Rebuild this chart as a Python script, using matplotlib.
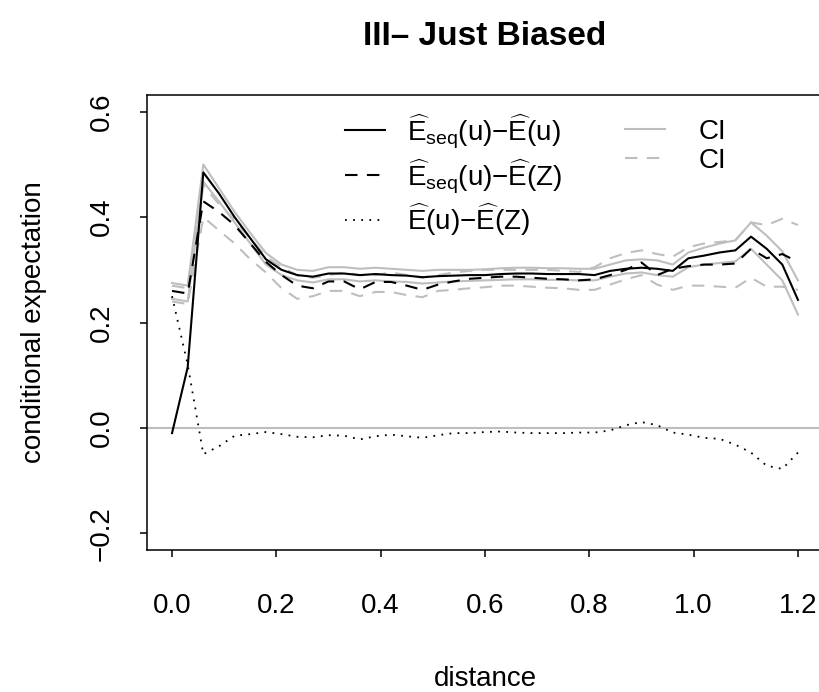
import matplotlib
matplotlib.use("Agg")
import matplotlib.pyplot as plt

plt.rcParams["font.family"] = ["Liberation Sans", "DejaVu Sans"]
plt.rcParams["mathtext.fontset"] = "custom"
plt.rcParams["mathtext.rm"] = "Liberation Sans"
plt.rcParams["mathtext.it"] = "Liberation Sans:italic"
plt.rcParams["mathtext.bf"] = "Liberation Sans:bold"

# distance grid (step 0.03)
distance = [0.00, 0.03, 0.06, 0.09, 0.12, 0.15, 0.18, 0.21, 0.24, 0.27,
            0.30, 0.33, 0.36, 0.39, 0.42, 0.45, 0.48, 0.51, 0.54, 0.57,
            0.60, 0.63, 0.66, 0.69, 0.72, 0.75, 0.78, 0.81, 0.84, 0.87,
            0.90, 0.93, 0.96, 0.99, 1.02, 1.05, 1.08, 1.11, 1.14, 1.17, 1.20]

# E_seq(u) - E(u)
seq_minus_u = [-0.010, 0.115, 0.485, 0.445, 0.400, 0.360, 0.320, 0.300, 0.290, 0.287,
               0.293, 0.293, 0.290, 0.292, 0.290, 0.289, 0.286, 0.288, 0.289, 0.290,
               0.290, 0.292, 0.293, 0.293, 0.292, 0.292, 0.292, 0.290, 0.298, 0.302,
               0.304, 0.302, 0.298, 0.322, 0.327, 0.333, 0.337, 0.363, 0.340, 0.310, 0.243]
ci_u_hi = [0.275, 0.270, 0.500, 0.455, 0.410, 0.370, 0.332, 0.310, 0.300, 0.298,
           0.305, 0.305, 0.302, 0.304, 0.302, 0.300, 0.298, 0.300, 0.300, 0.300,
           0.301, 0.303, 0.304, 0.304, 0.303, 0.303, 0.302, 0.302, 0.310, 0.318,
           0.320, 0.318, 0.310, 0.333, 0.342, 0.350, 0.356, 0.390, 0.365, 0.335, 0.280]
ci_u_lo = [0.245, 0.240, 0.467, 0.430, 0.390, 0.350, 0.310, 0.290, 0.280, 0.276,
           0.282, 0.282, 0.278, 0.280, 0.278, 0.277, 0.274, 0.276, 0.278, 0.279,
           0.280, 0.281, 0.282, 0.282, 0.281, 0.281, 0.280, 0.280, 0.287, 0.293,
           0.295, 0.290, 0.287, 0.305, 0.310, 0.313, 0.316, 0.340, 0.310, 0.280, 0.215]

# E_seq(u) - E(Z)
seq_minus_z = [0.260, 0.255, 0.430, 0.410, 0.385, 0.350, 0.315, 0.290, 0.270, 0.265,
               0.278, 0.278, 0.263, 0.277, 0.277, 0.270, 0.262, 0.272, 0.278, 0.283,
               0.285, 0.287, 0.287, 0.285, 0.283, 0.282, 0.280, 0.282, 0.290, 0.300,
               0.314, 0.290, 0.302, 0.307, 0.310, 0.310, 0.312, 0.340, 0.322, 0.330, 0.315]
ci_z_hi = [0.270, 0.265, 0.460, 0.425, 0.395, 0.360, 0.325, 0.305, 0.290, 0.285,
           0.290, 0.295, 0.290, 0.290, 0.295, 0.290, 0.285, 0.290, 0.295, 0.298,
           0.300, 0.300, 0.300, 0.300, 0.300, 0.298, 0.296, 0.305, 0.322, 0.332,
           0.337, 0.330, 0.325, 0.343, 0.350, 0.353, 0.356, 0.390, 0.385, 0.397, 0.385]
ci_z_lo = [0.240, 0.235, 0.400, 0.375, 0.350, 0.320, 0.295, 0.265, 0.245, 0.250,
           0.260, 0.260, 0.250, 0.258, 0.258, 0.252, 0.248, 0.260, 0.262, 0.265,
           0.267, 0.270, 0.270, 0.268, 0.266, 0.265, 0.262, 0.262, 0.272, 0.282,
           0.290, 0.272, 0.262, 0.270, 0.270, 0.268, 0.266, 0.285, 0.268, 0.268, 0.262]

# E(u) - E(Z)
u_minus_z = [0.250, 0.120, -0.050, -0.035, -0.015, -0.012, -0.008, -0.012, -0.017, -0.018,
             -0.014, -0.015, -0.022, -0.016, -0.013, -0.016, -0.019, -0.014, -0.010, -0.010,
             -0.008, -0.007, -0.009, -0.010, -0.010, -0.010, -0.009, -0.009, -0.005, 0.005,
             0.011, 0.005, -0.009, -0.013, -0.019, -0.021, -0.032, -0.047, -0.072, -0.078, -0.047]

xticks = [0.0, 0.2, 0.4, 0.6, 0.8, 1.0, 1.2]
yticks = [-0.2, 0.0, 0.2, 0.4, 0.6]

GRAY = "#BEBEBE"
DASH = (0, (6, 4.5))
DOT = (0, (1, 3.5))

fig = plt.figure(figsize=(8.2, 6.92), dpi=100)
ax = fig.add_axes([147 / 820, 1 - 550 / 692, 676 / 820, 455 / 692])
ax.set_xlim(-0.048, 1.248)
ax.set_ylim(-0.232, 0.632)

ax.axhline(0, color=GRAY, lw=1.5)
g1, = ax.plot(distance, ci_u_hi, color=GRAY, lw=1.5)
ax.plot(distance, ci_u_lo, color=GRAY, lw=1.5)
g2, = ax.plot(distance, ci_z_hi, color=GRAY, lw=1.5, ls=DASH)
ax.plot(distance, ci_z_lo, color=GRAY, lw=1.5, ls=DASH)
l1, = ax.plot(distance, seq_minus_u, color="black", lw=1.5)
l2, = ax.plot(distance, seq_minus_z, color="black", lw=1.5, ls=DASH)
l3, = ax.plot(distance, u_minus_z, color="black", lw=1.3, ls=DOT)

ax.set_xticks(xticks)
ax.set_xticklabels([f"{v:.1f}" for v in xticks])
ax.set_yticks(yticks)
ax.set_yticklabels([f"{v:.1f}".replace("-", "\u2212") for v in yticks],
                   rotation=90, va="center")
ax.tick_params(direction="out", length=5, width=1.1, labelsize=20)
ax.tick_params(axis="x", pad=26)
ax.tick_params(axis="y", pad=18)
for s in ax.spines.values():
    s.set_linewidth(1.1)

ax.set_xlabel("distance", fontsize=20, labelpad=34)
ax.set_ylabel("conditional expectation", fontsize=20, labelpad=30)
ax.set_title("III\u2013 Just Biased", fontsize=24, fontweight="bold", pad=36)

labs = [r"$\widehat{\mathrm{E}}_{\mathrm{seq}}(\mathrm{u}){-}\widehat{\mathrm{E}}(\mathrm{u})$",
        r"$\widehat{\mathrm{E}}_{\mathrm{seq}}(\mathrm{u}){-}\widehat{\mathrm{E}}(\mathrm{Z})$",
        r"$\widehat{\mathrm{E}}(\mathrm{u}){-}\widehat{\mathrm{E}}(\mathrm{Z})$"]
leg1 = ax.legend([l1, l2, l3], labs, loc="upper left",
                 bbox_to_anchor=((345 - 147) / 676, (550 - 112) / 455),
                 frameon=False, fontsize=20, handlelength=1.45, handletextpad=0.8,
                 borderpad=0, borderaxespad=0, labelspacing=0.22)
ax.add_artist(leg1)
ax.legend([g1, g2], ["CI", "CI"], loc="upper left",
          bbox_to_anchor=((625 - 147) / 676, (550 - 119) / 455),
          frameon=False, fontsize=20, handlelength=1.45, handletextpad=1.2,
          borderpad=0, borderaxespad=0, labelspacing=0.1)

fig.savefig("out.png", dpi=100)
